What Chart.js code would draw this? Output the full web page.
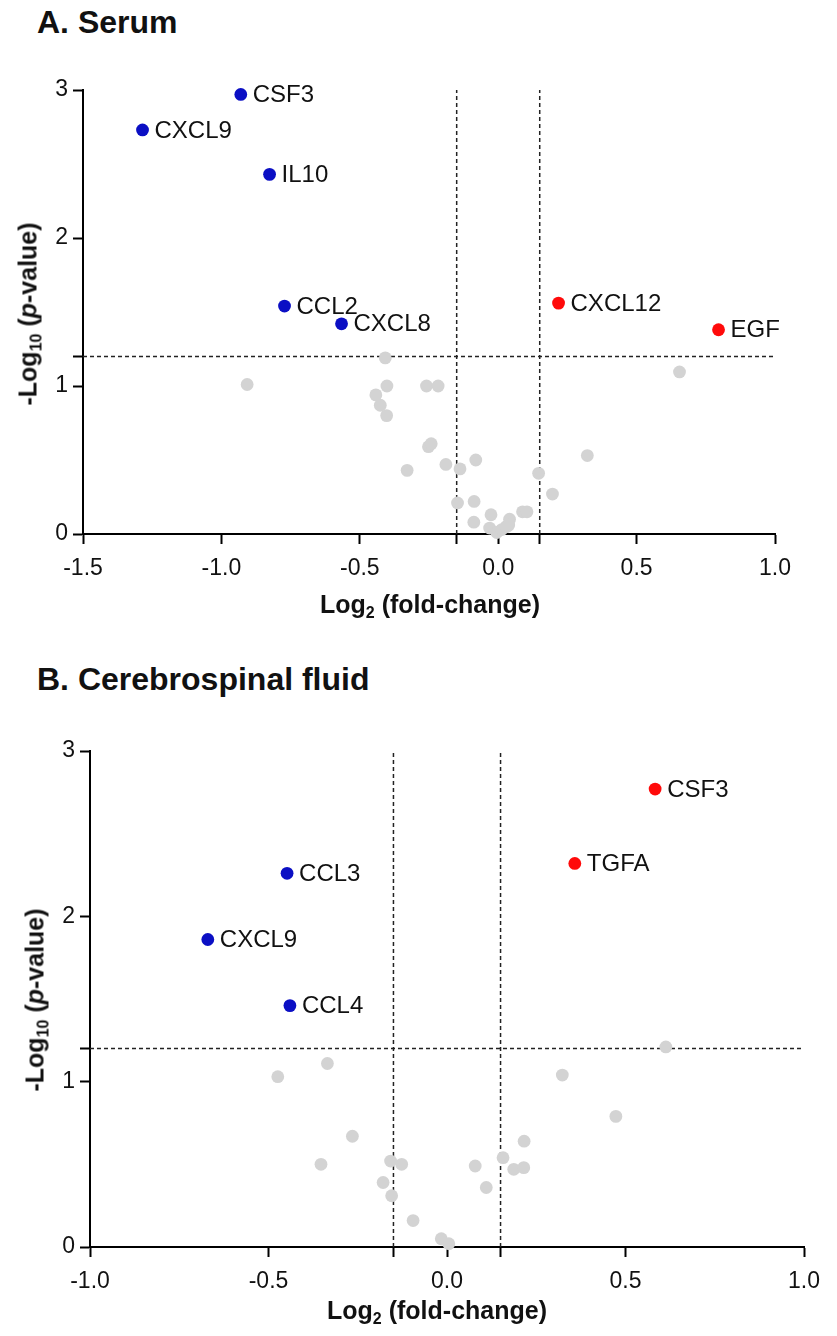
<!DOCTYPE html>
<html>
<head>
<meta charset="utf-8">
<title>Volcano plots</title>
<script src="https://cdn.jsdelivr.net/npm/chart.js@4.4.1/dist/chart.umd.min.js"></script>
<style>
  body { margin: 0; background: #fff; font-family: "Liberation Sans", Arial, sans-serif; color: #111; }
  #page { position: relative; width: 837px; height: 1336px; overflow: hidden; }
  canvas { position: absolute; left: 0; }
  .panel-title { position: absolute; left: 37px; font-weight: bold; font-size: 32px; line-height: 32px; white-space: nowrap; }
  .axis-title { position: absolute; font-weight: bold; font-size: 25px; line-height: 25px; white-space: nowrap; transform: translate(-50%, -50%); }
  .axis-title.y { transform: translate(-50%, -50%) rotate(-90deg); }
  .axis-title sub { font-size: 16px; vertical-align: -5px; line-height: 0; }
</style>
</head>
<body>
<div id="page">
  <div class="panel-title" style="top: 6px;">A. Serum</div>
  <canvas id="serumChart" width="837" height="640" style="top: 0;"></canvas>
  <div class="axis-title" style="left: 430px; top: 604px;">Log<sub>2</sub> (fold-change)</div>
  <div class="axis-title y" style="left: 28px; top: 314px;">-Log<sub>10</sub> (<i>p</i>-value)</div>

  <div class="panel-title" style="top: 663px;">B. Cerebrospinal fluid</div>
  <canvas id="csfChart" width="837" height="688" style="top: 648px;"></canvas>
  <div class="axis-title" style="left: 437px; top: 1310px;">Log<sub>2</sub> (fold-change)</div>
  <div class="axis-title y" style="left: 35px; top: 1000px;">-Log<sub>10</sub> (<i>p</i>-value)</div>
</div>

<script>
// thresholds
const fcCut = 0.15;
const pCut = 1.2;

// A. Serum
const serumDownNames = ["CSF3", "CXCL9", "IL10", "CCL2", "CXCL8"];
const serumDownX = [-0.93, -1.285, -0.826, -0.772, -0.566];
const serumDownY = [2.97, 2.73, 2.43, 1.54, 1.42];
const serumUpNames = ["CXCL12", "EGF"];
const serumUpX = [0.218, 0.796];
const serumUpY = [1.56, 1.38];
const serumOtherX = [-0.907, 0.655, -0.408, -0.402, -0.442, -0.426, -0.403, -0.259, -0.217, -0.252,
  -0.242, -0.329, -0.189, -0.138, -0.081, -0.147, -0.087, -0.088, -0.026, -0.031,
  -0.005, 0.013, 0.029, 0.041, 0.038, 0.088, 0.104, 0.146, 0.196, 0.322];
const serumOtherY = [1.01, 1.095, 1.19, 1.0, 0.94, 0.87, 0.80, 1.0, 1.0, 0.59,
  0.61, 0.43, 0.47, 0.44, 0.50, 0.21, 0.22, 0.08, 0.13, 0.04,
  0.01, 0.03, 0.05, 0.10, 0.06, 0.15, 0.15, 0.41, 0.27, 0.53];
const serumXTicks = [-1.5, -1.0, -0.5, -0.15, 0, 0.15, 0.5, 1.0];

// B. Cerebrospinal fluid
const csfDownNames = ["CCL3", "CXCL9", "CCL4"];
const csfDownX = [-0.448, -0.670, -0.440];
const csfDownY = [2.26, 1.86, 1.46];
const csfUpNames = ["CSF3", "TGFA"];
const csfUpX = [0.583, 0.358];
const csfUpY = [2.77, 2.32];
const csfOtherX = [0.613, 0.323, 0.473, -0.474, -0.335, -0.265, -0.353, -0.158, -0.127, -0.179,
  -0.155, -0.095, -0.016, 0.005, 0.079, 0.110, 0.157, 0.187, 0.215, 0.216];
const csfOtherY = [1.21, 1.04, 0.79, 1.03, 1.11, 0.67, 0.50, 0.52, 0.50, 0.39,
  0.31, 0.16, 0.05, 0.02, 0.49, 0.36, 0.54, 0.47, 0.48, 0.64];
const csfXTicks = [-1.0, -0.5, -0.15, 0, 0.15, 0.5, 1.0];

const yTicks = [0, 1, 1.2, 2, 3];

Chart.defaults.font.family = '"Liberation Sans", Arial, sans-serif';
Chart.defaults.color = "#111";

function toPoints(xs, ys) {
  return xs.map((x, i) => ({ x: x, y: ys[i] }));
}

// write gene names next to the coloured points
const pointLabels = {
  id: "pointLabels",
  afterDatasetsDraw(chart) {
    const ctx = chart.ctx;
    ctx.save();
    ctx.font = '24px "Liberation Sans", Arial, sans-serif';
    ctx.fillStyle = "#111";
    ctx.textBaseline = "middle";
    chart.data.datasets.forEach((ds, i) => {
      if (!ds.names) return;
      chart.getDatasetMeta(i).data.forEach((pt, j) => {
        ctx.fillText(ds.names[j], pt.x + 12, pt.y + 1);
      });
    });
    ctx.restore();
  },
};

function dashed(points) {
  return {
    type: "line",
    data: points,
    borderColor: "#222",
    borderWidth: 1.5,
    borderDash: [4, 3],
    pointRadius: 0,
    order: 10,
  };
}

function makeVolcano(id, p) {
  const dot = { pointRadius: 6.4, pointHoverRadius: 6.4, borderWidth: 0, clip: false };
  new Chart(document.getElementById(id), {
    type: "scatter",
    data: {
      datasets: [
        Object.assign({ data: toPoints(p.downX, p.downY), names: p.downNames, backgroundColor: "#0b0fc4" }, dot),
        Object.assign({ data: toPoints(p.upX, p.upY), names: p.upNames, backgroundColor: "#ff0a0a" }, dot),
        Object.assign({ data: toPoints(p.otherX, p.otherY), backgroundColor: "#d3d3d3" }, dot),
        dashed([{ x: p.xMin, y: pCut }, { x: p.xMax, y: pCut }]),
        dashed([{ x: -fcCut, y: 0 }, { x: -fcCut, y: 3 }]),
        dashed([{ x: fcCut, y: 0 }, { x: fcCut, y: 3 }]),
      ],
    },
    options: {
      responsive: false,
      animation: false,
      layout: { padding: p.padding },
      plugins: { legend: { display: false }, tooltip: { enabled: false } },
      scales: {
        x: {
          type: "linear",
          min: p.xMin,
          max: p.xMax,
          afterBuildTicks: (scale) => {
            scale.ticks = p.xTicks.map((v) => ({ value: v }));
          },
          afterFit: (scale) => {
            scale.height = 70;
          },
          ticks: {
            autoSkip: false,
            maxRotation: 0,
            padding: 11,
            font: { size: 23 },
            color: "#111",
            callback: (v) => (Math.abs(v) === fcCut ? "" : v.toFixed(1)),
          },
          grid: { drawOnChartArea: false, tickLength: 10, tickColor: "#000", tickWidth: 2 },
          border: { color: "#000", width: 2 },
        },
        y: {
          type: "linear",
          min: 0,
          max: 3,
          afterBuildTicks: (scale) => {
            scale.ticks = yTicks.map((v) => ({ value: v }));
          },
          afterFit: (scale) => {
            scale.width = 60;
          },
          ticks: {
            autoSkip: false,
            padding: 5,
            font: { size: 23 },
            color: "#111",
            callback: (v) => (v === pCut ? "" : String(v)),
          },
          grid: { drawOnChartArea: false, tickLength: 10, tickColor: "#000", tickWidth: 2 },
          border: { color: "#000", width: 2 },
        },
      },
    },
    plugins: [pointLabels],
  });
}

makeVolcano("serumChart", {
  downNames: serumDownNames, downX: serumDownX, downY: serumDownY,
  upNames: serumUpNames, upX: serumUpX, upY: serumUpY,
  otherX: serumOtherX, otherY: serumOtherY,
  xMin: -1.5, xMax: 1.0, xTicks: serumXTicks,
  padding: { left: 23, top: 90, right: 62, bottom: 36 },
});

makeVolcano("csfChart", {
  downNames: csfDownNames, downX: csfDownX, downY: csfDownY,
  upNames: csfUpNames, upX: csfUpX, upY: csfUpY,
  otherX: csfOtherX, otherY: csfOtherY,
  xMin: -1.0, xMax: 1.0, xTicks: csfXTicks,
  padding: { left: 30, top: 103, right: 33, bottom: 19 },
});
</script>
</body>
</html>
